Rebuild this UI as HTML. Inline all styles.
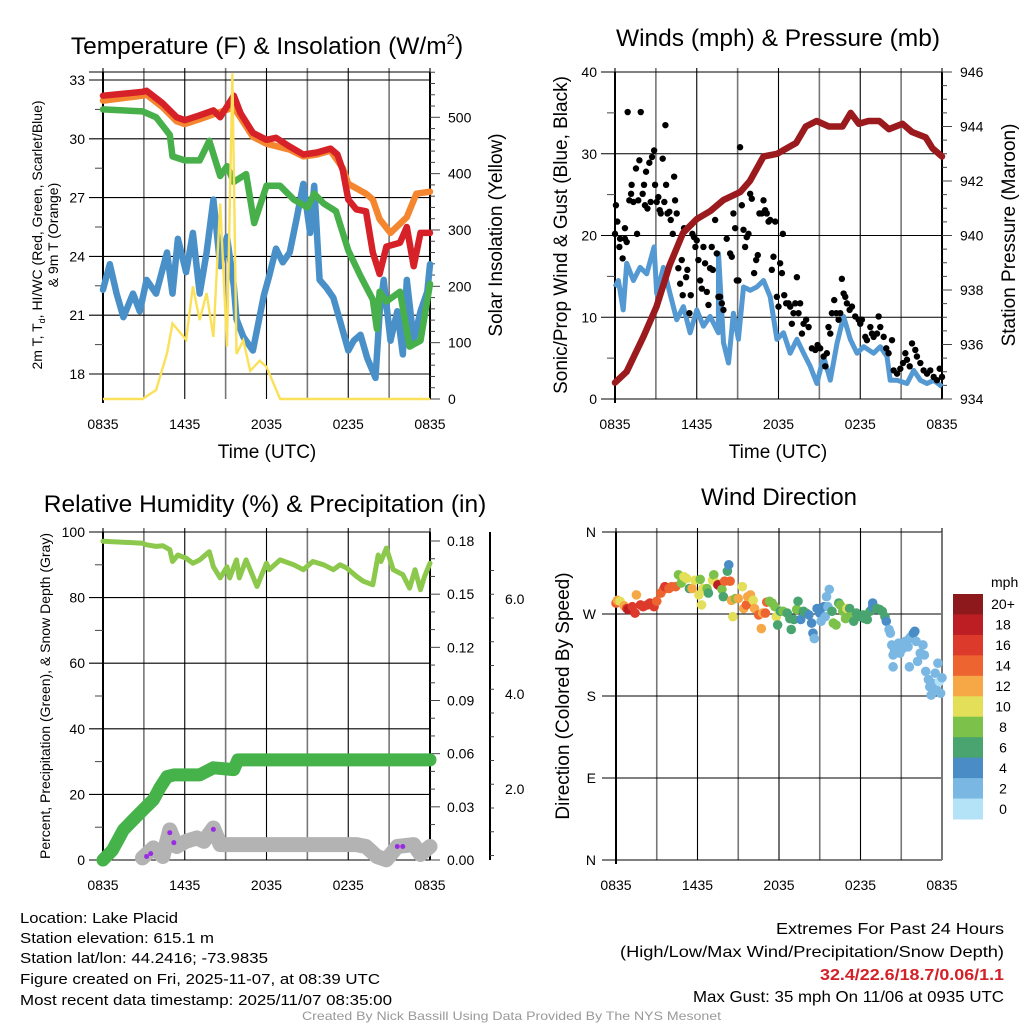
<!DOCTYPE html>
<html><head><meta charset="utf-8"><style>
html,body{margin:0;padding:0;background:#fff;}
svg{display:block;font-family:"Liberation Sans",sans-serif;}
</style></head><body>
<svg id="fig" width="1024" height="1024" viewBox="0 0 1024 1024" xmlns="http://www.w3.org/2000/svg">
<g id="root"></g>
<g font-size="15" fill="#000">
<text x="20" y="923" textLength="158" lengthAdjust="spacingAndGlyphs">Location: Lake Placid</text>
<text x="20" y="943" textLength="194" lengthAdjust="spacingAndGlyphs">Station elevation: 615.1 m</text>
<text x="20" y="963" textLength="248" lengthAdjust="spacingAndGlyphs">Station lat/lon: 44.2416; -73.9835</text>
<text x="20" y="984" textLength="360" lengthAdjust="spacingAndGlyphs">Figure created on Fri, 2025-11-07, at 08:39 UTC</text>
<text x="20" y="1005" textLength="372" lengthAdjust="spacingAndGlyphs">Most recent data timestamp: 2025/11/07 08:35:00</text>
</g>
<g font-size="16" fill="#000">
<text x="776" y="934" textLength="228" lengthAdjust="spacingAndGlyphs">Extremes For Past 24 Hours</text>
<text x="620" y="957" textLength="384" lengthAdjust="spacingAndGlyphs">(High/Low/Max Wind/Precipitation/Snow Depth)</text>
<text x="820" y="980" textLength="184" lengthAdjust="spacingAndGlyphs" font-weight="bold" fill="#d42027">32.4/22.6/18.7/0.06/1.1</text>
<text x="693" y="1002" textLength="311" lengthAdjust="spacingAndGlyphs">Max Gust: 35 mph On 11/06 at 0935 UTC</text>
</g>
<text x="302" y="1020" textLength="419" lengthAdjust="spacingAndGlyphs" font-size="12" fill="#999">Created By Nick Bassill Using Data Provided By The NYS Mesonet</text>
</svg>
<script>
// ---------- DATA ----------
const xTickLabels = ["0835","1435","2035","0235","0835"];
// Panel 1
const tempTicks = [18,21,24,27,30,33];
const insolTicks = [0,100,200,300,400,500];
const tRedH = [0,2.9,3.2,4.4,5.4,6,7.1,8.1,8.6,9.6,10.1,11,12,12.7,13.7,14.7,15.7,16.7,17.2,17.6,18,18.6,19.3,19.8,20.3,20.8,21.8,22.3,22.8,23.3,24];
const tRed  = [32.2,32.4,32.45,31.8,31.1,30.95,31.2,31.45,31.1,32.2,31.3,30.3,29.95,30.05,29.6,29.2,29.3,29.5,29.2,28.4,26.9,26.4,26.3,24.2,23.1,24.5,24.7,25.5,23.5,25.2,25.2];
const tOrgH = [0,2.9,3.2,4.4,5.4,6,7.1,8.1,9.6,11,12,13.7,14.7,15.7,16.7,17.6,18,19.3,19.8,20.3,21.1,22.3,23,24];
const tOrg  = [31.95,32.2,32.25,31.6,30.9,30.75,31.0,31.25,31.6,30.1,29.75,29.45,29.1,29.2,29.4,28.5,27.7,27.2,26.9,25.9,25.2,26.0,27.2,27.3];
const tGrnH = [0,2.9,3.9,4.9,5.1,6,7.1,7.8,8.6,9.1,9.6,10.5,11.1,12,13,14,15,15.5,16.2,17.1,18,18.9,19.8,20.1,20.3,20.8,21.8,22.5,23.3,24];
const tGrn  = [31.5,31.4,31.1,30.2,29.1,28.9,28.9,29.9,28.1,28.6,27.8,28.2,25.7,27.6,27.6,26.9,26.5,27.2,26.7,26.3,24.3,23,21.8,20.3,22.2,21.7,22.2,19.4,19.7,22.6];
const tBluH = [0,0.5,1,1.5,2.2,2.7,3.2,3.9,4.7,5.1,5.5,6.1,6.6,7.1,7.6,8.1,8.6,9.1,9.6,9.8,10.3,11,11.8,12.2,12.7,13.2,13.7,14.2,14.7,15.2,15.5,15.9,16.4,16.9,17.4,18,18.4,18.9,19.4,20,20.3,20.6,21.1,21.6,22,22.3,22.8,23.3,23.8,24];
const tBlu  = [22.3,23.6,22.1,20.9,22.1,21.2,22.8,22.1,24.2,22.1,24.9,23.2,25.2,22.1,24.2,26.9,23.5,25.0,22.5,20.8,19.9,19.2,22.0,23.0,24.4,23.7,24.2,25.9,27.7,25.2,27.6,22.8,22.4,21.9,20.7,19.2,19.7,20.0,18.8,17.8,21.1,22.8,19.7,21.2,19.0,22.8,19.7,21.2,22.2,23.6];
const insH = [0,2.9,3.9,4.7,5.1,6.1,6.6,7.1,7.6,8.1,8.6,9.1,9.5,9.8,10.3,10.8,11.5,12,13,24];
const insV = [0,0,16,81,134,105,200,140,188,110,347,93,578,80,104,50,68,57,0,0];
// Panel 2
const windTicks = [0,10,20,30,40];
const presTicks = [934,936,938,940,942,944,946];
const presH = [0,0.85,2.1,3.05,4,5,6,7,7.95,9.2,9.9,10.9,11.9,12.6,13.3,14,14.8,15.7,16.7,17.3,17.9,18.6,19.4,20.1,21.1,21.8,22.8,23.3,24];
const presV = [934.6,935.0,936.3,937.4,938.9,940.1,940.6,940.9,941.3,941.6,942.0,942.9,943.0,943.2,943.4,944.0,944.2,944.0,944.0,944.5,944.1,944.2,944.2,943.9,944.1,943.8,943.6,943.2,942.9];
const windH = [0,0.25,0.6,0.86,1.35,1.84,2.33,2.87,3.06,3.55,4.04,4.53,5.02,5.51,6.0,6.49,6.98,7.59,7.6,7.96,8.33,8.69,9.06,9.43,9.92,10.41,10.9,11.39,11.88,12.37,12.86,13.35,13.84,14.33,14.82,15.31,15.8,16.29,16.78,17.27,17.76,18.25,18.98,19.47,19.96,20.2,20.7,21.43,21.92,22.41,22.9,23.39,24];
const windV = [13.7,14.5,10.9,16.6,14.5,16.1,15.3,18.6,12.9,16.1,12.9,9.7,11.3,8.1,10.9,8.9,10.1,8.1,17.8,6.9,4.4,10.5,7.3,13.7,13.3,13.7,14.5,12.5,7.3,8.1,5.6,7.3,5.6,4.0,1.9,5.2,2.3,6.8,10.1,7.3,5.6,6.4,5.6,6.4,5.2,2.3,2.3,1.9,3.5,2.3,1.9,2.3,1.5];
const gustH = [0,0.07,0.17,0.32,0.37,0.56,0.73,0.73,0.86,0.93,1.05,1.18,1.22,1.35,1.54,1.62,1.71,1.79,1.89,2.03,2.13,2.2,2.28,2.38,2.52,2.62,2.72,2.87,2.94,3.06,3.18,3.28,3.36,3.5,3.62,3.7,3.75,3.85,3.99,4.09,4.24,4.34,4.41,4.53,4.65,4.78,4.9,4.97,5.07,5.22,5.31,5.46,5.56,5.68,5.8,5.9,6.0,6.12,6.25,6.37,6.49,6.61,6.74,6.86,6.98,7.1,7.18,7.35,7.47,7.59,7.71,7.84,7.96,8.2,8.45,8.57,8.69,8.82,8.94,9.06,9.18,9.31,9.43,9.55,9.67,9.8,9.92,10.04,10.21,10.36,10.48,10.6,10.78,10.9,11.02,11.14,11.27,11.39,11.51,11.63,11.76,11.88,12.0,12.12,12.25,12.32,12.42,12.56,12.74,12.86,12.98,13.1,13.23,13.35,13.47,13.59,13.72,13.84,14.03,14.21,14.45,14.7,14.87,15.06,15.31,15.43,15.55,15.67,15.8,15.92,16.09,16.24,16.41,16.53,16.65,16.78,16.9,17.02,17.22,17.39,17.63,17.88,18.0,18.12,18.37,18.49,18.74,18.86,18.98,19.23,19.35,19.47,19.72,19.91,20.08,20.33,20.45,20.7,20.94,21.14,21.31,21.43,21.63,21.8,22.04,22.16,22.41,22.65,22.9,23.14,23.39,23.63,23.83,24];
const gustV = [20.2,23.7,21.7,18.6,19.6,17.2,19.6,20.9,19.2,35.1,24.3,25.1,26.2,24.1,28.2,20.2,24.3,29.2,35.1,25.1,26.2,23.7,27.8,23.3,28.9,24.1,29.6,30.4,26.2,24.1,24.7,23.1,22.7,29.4,24.1,33.5,26.2,22.7,22.9,21.9,20.2,27.2,24.3,22.7,16.0,14.1,17.0,12.7,20.9,14.9,15.8,10.5,12.7,20.2,19.8,18.6,19.4,17.0,14.5,13.5,18.6,16.6,13.1,11.5,16.0,18.6,15.8,21.9,17.8,12.5,12.5,11.7,10.9,19.6,17.8,17.4,22.7,20.9,14.5,14.5,30.8,23.7,20.7,18.6,19.8,20.2,25.1,24.5,15.4,17.0,17.6,22.7,22.7,24.3,23.1,22.7,21.7,21.9,15.8,17.4,21.7,12.5,11.3,16.6,15.4,20.2,12.7,11.7,11.7,11.3,9.2,10.5,11.7,14.9,10.5,11.7,8.0,9.2,9.7,8.8,6.2,6.0,6.6,6.2,5.2,4.0,5.6,8.8,8.0,10.5,12.1,10.5,9.7,10.5,14.7,12.9,12.5,11.7,10.9,11.3,10.1,9.7,9.2,9.7,7.6,7.2,8.8,8.0,7.6,8.0,10.1,8.8,7.6,6.2,5.6,7.2,3.5,3.1,3.7,4.4,5.6,4.8,4.0,6.8,6.0,5.2,4.4,3.5,3.1,3.5,2.7,2.3,3.7,2.7];
// Panel 3
const rhTicks = [0,20,40,60,80,100];
const precipTicks = ["0.00","0.03","0.06","0.09","0.12","0.15","0.18"];
const snowTicks = ["2.0","4.0","6.0"];
const rhH = [0,2.9,3.2,3.9,4.4,4.9,5.1,5.5,6.1,6.6,7.1,7.8,8.1,8.6,9.1,9.3,9.8,10.0,10.5,11.3,12,12.2,13,14,14.7,15.4,16.2,16.9,17.4,17.9,18.6,19.1,19.8,20.2,20.4,20.8,21.3,22.0,22.5,22.9,23.3,23.6,24];
const rhV = [97.2,96.6,96.1,95.6,95.8,94.6,91,93,92,90.5,91.5,94,89.4,86,89.4,86,91.5,86,91.5,83.4,90.5,88.5,91.5,90,88.5,91,90,88.5,90,89,86.5,85,83.9,93,91,95.1,88.5,87,82.9,88.5,82.4,86.5,90.5];
const pcpH = [0,0.7,1.5,2.2,2.9,3.7,4.2,4.7,5.2,7.1,8.1,9.6,9.9,24];
const pcpV = [0,0.0056,0.017,0.0225,0.028,0.034,0.041,0.047,0.048,0.048,0.052,0.051,0.0565,0.0565];
const snowH = [2.9,3.7,4.4,4.9,5.4,6.1,6.9,7.4,8.1,8.6,9.6,18.0,18.6,19.3,20.1,20.8,21.6,22.8,23.3,24];
const snowV = [0.55,0.76,0.58,1.14,0.79,0.9,0.97,0.9,1.18,0.83,0.83,0.83,0.83,0.79,0.58,0.51,0.79,0.83,0.62,0.79];
const purpleH = [3.2,3.5,4.9,5.2,8.1,21.6,22.0];
const purpleV = [0.58,0.64,1.08,0.87,1.15,0.79,0.79];
// Panel 4
const dirLabels = ["N","E","S","W","N"];
const speedBins = ["0","2","4","6","8","10","12","14","16","18","20+"];
const speedColors = ["#b4e2f7","#7ab8e3","#4a8dc6","#49a46f","#7cc14a","#e3df59","#f5a845","#ee6430","#dc3a2a","#bd1e24","#8e191c"];
const wdH = [0,0.1,0.3,0.6,0.8,0.9,1.2,1.4,1.5,1.8,2.0,2.3,2.5,2.8,3.0,3.3,3.5,3.6,3.9,4.1,4.4,4.6,4.8,5.0,5.2,5.4,5.6,5.8,6.1,6.2,6.3,6.4,6.7,6.8,7.1,7.2,7.4,7.5,7.8,7.9,8.0,8.2,8.3,8.4,8.5,8.6,8.8,9.0,9.3,9.4,9.6,9.7,9.9,10.1,10.2,10.5,10.7,10.8,11.0,11.1,11.3,11.5,11.7,11.8,11.9,12.1,12.3,12.6,12.8,12.9,13.1,13.3,13.4,13.6,13.8,14.0,14.2,14.4,14.5,14.6,14.8,15.0,15.1,15.3,15.4,15.5,15.6,15.7,15.9,16.0,16.2,16.4,16.5,16.7,16.9,17.0,17.2,17.3,17.5,17.7,18.0,18.2,18.3,18.5,18.7,18.9,18.9,19.2,19.4,19.6,19.8,19.9,20.1,20.2,20.3,20.4,20.5,20.6,20.8,20.9,21.1,21.3,21.5,21.6,21.7,21.9,22.0,22.1,22.2,22.4,22.6,22.7,22.8,23.0,23.1,23.2,23.3,23.5,23.6,23.7,23.8,23.9,24.0,21.6,20.4];
const wdDir = [282,285,284,279,276,275,278,271,291,280,278,280,282,278,284,293,297,300,298,300,300,313,304,311,309,298,298,307,291,308,280,298,298,293,307,313,304,302,297,289,306,317,324,306,285,267,287,287,300,276,280,289,291,285,276,269,254,271,271,283,284,282,278,267,258,273,273,271,265,253,264,275,284,264,273,271,269,260,249,243,276,271,262,278,267,289,278,297,273,260,258,282,280,273,265,276,276,267,262,271,267,269,265,264,273,282,278,276,275,273,267,262,253,249,236,225,231,234,238,227,232,240,234,243,245,249,251,240,218,227,236,225,207,198,190,181,194,205,187,216,196,183,200,212,212];
const wdSpd = [14,12,10,12,16,18,16,16,12,16,16,16,16,16,14,14,14,16,14,14,14,8,8,10,10,6,12,10,10,8,10,10,8,6,10,8,10,18,8,6,14,6,4,14,12,10,8,12,10,12,14,12,12,10,12,14,12,12,14,14,8,8,8,10,6,6,8,6,6,6,6,8,6,4,6,6,4,4,4,2,4,4,2,4,2,2,2,2,6,8,8,6,8,8,8,10,6,8,6,6,6,6,6,6,6,4,4,6,6,6,6,4,2,2,2,2,2,2,2,2,2,2,2,2,2,4,4,2,2,2,2,2,2,2,2,2,2,2,2,2,0,2,2,2,2,2];

// ---------- DRAW ----------
const NS="http://www.w3.org/2000/svg";
const root=document.getElementById('root');
function el(tag,attrs,parent,text){const e=document.createElementNS(NS,tag);for(const k in attrs)e.setAttribute(k,attrs[k]);if(text!==undefined)e.textContent=text;(parent||root).appendChild(e);return e;}
function lin(d0,d1,r0,r1){return v=>r0+(v-d0)/(d1-d0)*(r1-r0);}
function pathD(xs,ys,fx,fy){let d="";const n=Math.min(xs.length,ys.length);for(let i=0;i<n;i++)d+=(i?"L":"M")+fx(xs[i]).toFixed(1)+","+fy(ys[i]).toFixed(1);return d;}

function frame(g,L,R,T,B,xs,hGrid){
  for(let h=0;h<=24;h+=3){const x=xs(h);
    const ln=el('line',{x1:x,y1:T-4,x2:x,y2:B,stroke:(h%6==3)?'#777':'#000','stroke-width':(h%6==3)?1.6:1.1},g);
    }
  hGrid.forEach(y=>{const ln=el('line',{x1:L-14,y1:y,x2:R,y2:y,stroke:'#000','stroke-width':1.1},g);
    });
  const ax=el('line',{x1:L,y1:T,x2:L,y2:B+4,stroke:'#000','stroke-width':2},g);
  
  xTickLabels.forEach((t,i)=>{const tx=el('text',{x:xs(i*6),y:B+30,'font-size':14,'text-anchor':'middle'},g,t);
    });
}

// Panel 1
(function(){
  const g=el('g',{});
  const L=103,R=430,T=72,B=399;
  const xs=lin(0,24,L,R), ys=lin(18,33,374,80), yi=lin(0,500,399,117.3);
  const tt=el('text',{x:267,y:54,'font-size':24.5,'text-anchor':'middle'},g,'Temperature (F) & Insolation (W/m');
  
  el('tspan',{dy:-10,'font-size':15},tt,'2');el('tspan',{dy:10},tt,')');
  frame(g,L,R,T,B,xs,tempTicks.map(ys).concat([T]));
  tempTicks.forEach(t=>{const tx=el('text',{x:L-18,y:ys(t)+5,'font-size':14,'text-anchor':'end'},g,t);
    });
  for(let t=19.5;t<33;t+=3){el('line',{x1:L-8,y1:ys(t),x2:L,y2:ys(t),stroke:'#444'},g);}
  const ra=el('line',{x1:R,y1:T,x2:R,y2:B,stroke:'#000','stroke-width':2},g);
  for(let v=0;v<=580;v+=20){const y=yi(v);el('line',{x1:R,y1:y,x2:R+(v%100==0?10:5),y2:y,stroke:'#444'},g);}
  insolTicks.forEach(t=>{const tx=el('text',{x:R+18,y:yi(t)+5,'font-size':14},g,t);
    });
  const series=[[tBluH,tBlu,'#4a90c8','dewpoint-line'],[tGrnH,tGrn,'#47b04b','heat-index-line'],[tOrgH,tOrg,'#f58630','9m-temp-line'],[tRedH,tRed,'#d62128','2m-temp-line']];
  series.forEach(s=>{const p=el('path',{d:pathD(s[0],s[1],xs,ys),fill:'none',stroke:s[2],'stroke-width':6.5,'stroke-linejoin':'round','stroke-linecap':'round'},g);
    });
  const ip=el('path',{d:pathD(insH,insV,xs,yi),fill:'none',stroke:'#fbe15a','stroke-width':2.4},g);
  
  const xt=el('text',{x:267,y:458,'font-size':19,'text-anchor':'middle'},g,'Time (UTC)');
  const yt=el('text',{transform:'translate(42,235) rotate(-90)','font-size':14,'text-anchor':'middle'},g,'2m T, T');
  el('tspan',{'font-size':9,dy:3},yt,'d');el('tspan',{dy:-3},yt,', HI/WC (Red, Green, Scarlet/Blue)');
  
  const yt2=el('text',{transform:'translate(58,235) rotate(-90)','font-size':14,'text-anchor':'middle'},g,'& 9m T (Orange)');
  
  const rt=el('text',{transform:'translate(502,235) rotate(-90)','font-size':19,'text-anchor':'middle'},g,'Solar Insolation (Yellow)');
  
})();

// Panel 2
(function(){
  const g=el('g',{});
  const L=615,R=942,T=72,B=399;
  const xs=lin(0,24,L,R), yw=lin(0,40,B,T), yp=lin(934,946,B,T);
  const tt=el('text',{x:778,y:46,'font-size':24.5,'text-anchor':'middle'},g,'Winds (mph) & Pressure (mb)');
  frame(g,L,R,T,B,xs,windTicks.map(yw));
  windTicks.forEach(t=>{const tx=el('text',{x:L-18,y:yw(t)+5,'font-size':14,'text-anchor':'end'},g,t);
    });
  for(let t=5;t<40;t+=10)el('line',{x1:L-8,y1:yw(t),x2:L,y2:yw(t),stroke:'#444'},g);
  const ra=el('line',{x1:R,y1:T,x2:R,y2:B,stroke:'#000','stroke-width':2},g);
  for(let v=934;v<=946.01;v+=0.5){const y=yp(v);el('line',{x1:R,y1:y,x2:R+(Math.abs(v%2)<0.01?10:5),y2:y,stroke:'#444'},g);}
  presTicks.forEach(t=>{const tx=el('text',{x:R+18,y:yp(t)+5,'font-size':14},g,t);
    });
  const wp=el('path',{d:pathD(windH,windV,xs,yw),fill:'none',stroke:'#5599d3','stroke-width':5,'stroke-linejoin':'round'},g);
  
  const gg=el('g',{fill:'#000'},g);
  for(let i=0;i<Math.min(gustH.length,gustV.length);i++){const c=el('circle',{cx:xs(gustH[i]),cy:yw(gustV[i]),r:3.2},gg);
    }
  const pp=el('path',{d:pathD(presH,presV,xs,yp),fill:'none',stroke:'#9a1a1d','stroke-width':6.5,'stroke-linejoin':'round','stroke-linecap':'round'},g);
  
  const xt=el('text',{x:778,y:458,'font-size':19,'text-anchor':'middle'},g,'Time (UTC)');
  const yt=el('text',{transform:'translate(567,235) rotate(-90)','font-size':19,'text-anchor':'middle'},g,'Sonic/Prop Wind & Gust (Blue, Black)');
  
  const rt=el('text',{transform:'translate(1015,235) rotate(-90)','font-size':19,'text-anchor':'middle'},g,'Station Pressure (Maroon)');
  
})();

// Panel 3
(function(){
  const g=el('g',{});
  const L=103,R=430,T=532,B=860;
  const xs=lin(0,24,L,R), yr=lin(0,100,B,T), yc=lin(0,0.18,B,541), ysn=lin(2,6,789,599);
  const tt=el('text',{x:265,y:512,'font-size':24.5,'text-anchor':'middle'},g,'Relative Humidity (%) & Precipitation (in)');
  frame(g,L,R,T,B,xs,rhTicks.map(yr));
  rhTicks.forEach(t=>{const tx=el('text',{x:L-18,y:yr(t)+5,'font-size':14,'text-anchor':'end'},g,t);
    });
  for(let t=10;t<100;t+=20)el('line',{x1:L-8,y1:yr(t),x2:L,y2:yr(t),stroke:'#444'},g);
  const ra=el('line',{x1:R,y1:T,x2:R,y2:B,stroke:'#000','stroke-width':2},g);
  for(let v=0;v<=0.185;v+=0.01){const y=yc(v);const maj=Math.round(v*100)%3==0;el('line',{x1:R,y1:y,x2:R+(maj?10:5),y2:y,stroke:'#444'},g);}
  precipTicks.forEach(t=>{const tx=el('text',{x:R+17,y:yc(parseFloat(t))+5,'font-size':14},g,t);
    });
  const sa=el('line',{x1:490,y1:T,x2:490,y2:B,stroke:'#000','stroke-width':2},g);
  for(let v=0.6;v<=7.0;v+=0.5){const y=ysn(v);if(y<T||y>B)continue;const maj=Math.abs(v-Math.round(v))<0.01&&Math.round(v)%2==0;el('line',{x1:490,y1:y,x2:490+(maj?8:4),y2:y,stroke:'#444'},g);}
  snowTicks.forEach(t=>{const tx=el('text',{x:505,y:ysn(parseFloat(t))+5,'font-size':14},g,t);
    });
  const sp=el('path',{d:pathD(snowH,snowV,xs,ysn),fill:'none',stroke:'#b3b3b3','stroke-width':15,'stroke-linejoin':'round','stroke-linecap':'round'},g);
  
  const pg=el('g',{fill:'#9a2be2'},g);
  for(let i=0;i<purpleH.length;i++){const c=el('circle',{cx:xs(purpleH[i]),cy:ysn(purpleV[i]),r:2.5},pg);}
  const cp=el('path',{d:pathD(pcpH,pcpV,xs,yc),fill:'none',stroke:'#45b34a','stroke-width':13,'stroke-linejoin':'round','stroke-linecap':'round'},g);
  
  const rp=el('path',{d:pathD(rhH,rhV,xs,yr),fill:'none',stroke:'#8cc84b','stroke-width':5,'stroke-linejoin':'round','stroke-linecap':'round'},g);
  
  const yt=el('text',{transform:'translate(50,696) rotate(-90)','font-size':14,'text-anchor':'middle'},g,'Percent, Precipitation (Green), & Snow Depth (Gray)');
  
})();

// Panel 4
(function(){
  const g=el('g',{});
  const L=616,R=942,T=532,B=860;
  const xs=lin(0,24,L,R), yd=lin(0,360,B,T);
  const tt=el('text',{x:779,y:505,'font-size':24,'text-anchor':'middle'},g,'Wind Direction');
  frame(g,L,R,T,B,xs,dirLabels.map((d,i)=>yd(i*90)));
  el('line',{x1:R,y1:T,x2:R,y2:B,stroke:'#777','stroke-width':2},g);
  dirLabels.forEach((d,i)=>{const tx=el('text',{x:L-20,y:yd(i*90)+5,'font-size':14,'text-anchor':'end'},g,d);
    });
  const dg=el('g',{},g);
  const n=Math.min(wdH.length,wdDir.length,wdSpd.length);
  for(let i=0;i<n;i++){const bin=Math.min(10,Math.round(wdSpd[i]/2));
    const c=el('circle',{cx:xs(wdH[i]),cy:yd(wdDir[i]),r:4.8,fill:speedColors[bin]},dg);
    }
  const yt=el('text',{transform:'translate(569,696) rotate(-90)','font-size':19,'text-anchor':'middle'},g,'Direction (Colored By Speed)');
  
  const lg=el('g',{},g);
  const ut=el('text',{x:991,y:587,'font-size':14},lg,'mph');
  const bh=(819-594)/speedBins.length;
  speedBins.forEach((b,i)=>{const k=speedBins.length-1-i;const y=594+i*bh;
    const r=el('rect',{x:953,y:y,width:30,height:bh+0.5,fill:speedColors[k]},lg);
    const tx=el('text',{x:1003,y:y+bh/2+5,'font-size':14,'text-anchor':'middle'},lg,speedBins[k]);});
})();
</script>
</body></html>
